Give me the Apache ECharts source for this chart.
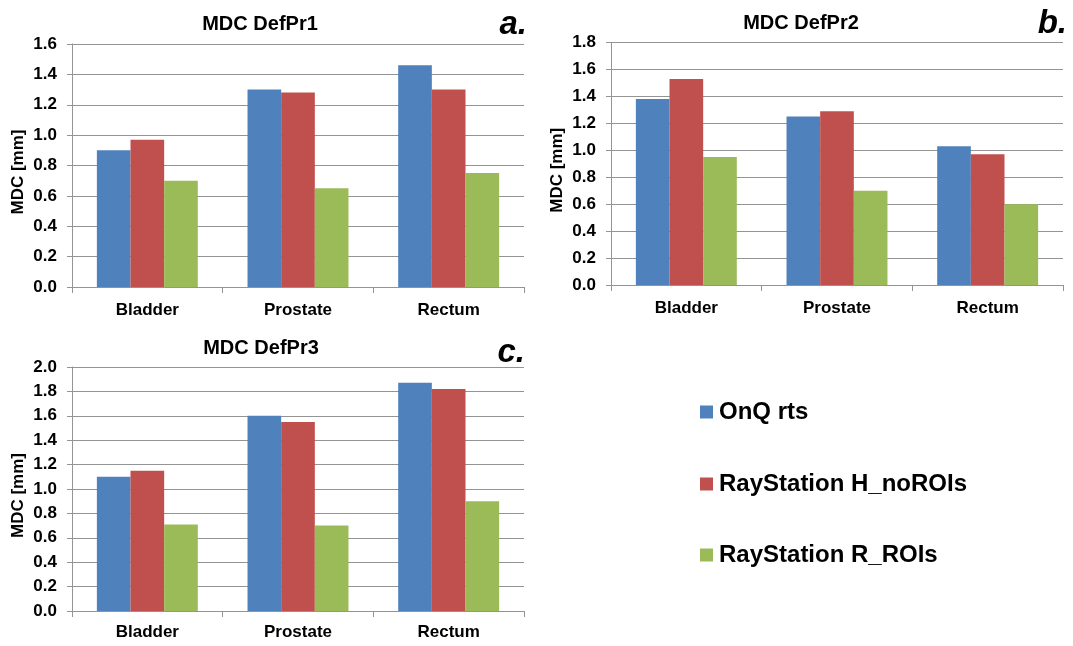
<!DOCTYPE html>
<html>
<head>
<meta charset="utf-8">
<style>
  html, body { margin: 0; padding: 0; background: #ffffff; }
  #chart { width: 1073px; height: 646px; }
</style>
<script src="https://cdn.jsdelivr.net/npm/echarts@6/dist/echarts.min.js"></script>
</head>
<body>
<div id="chart"></div>
<script>
// Organs on the category axis
const categories = ['Bladder', 'Prostate', 'Rectum'];
// Registration methods (series)
const seriesNames = ['OnQ rts', 'RayStation H_noROIs', 'RayStation R_ROIs'];
const seriesColors = ['#4F81BD', '#C0504D', '#9BBB59'];

// Panel titles and letters
const panelTitles = ['MDC DefPr1', 'MDC DefPr2', 'MDC DefPr3'];
const panelLetters = ['a.', 'b.', 'c.'];

// MDC [mm] per organ, DefPr1
const defPr1OnQ = [0.90, 1.30, 1.46];
const defPr1H   = [0.97, 1.28, 1.30];
const defPr1R   = [0.70, 0.65, 0.75];
// DefPr2
const defPr2OnQ = [1.38, 1.25, 1.03];
const defPr2H   = [1.53, 1.29, 0.97];
const defPr2R   = [0.95, 0.70, 0.60];
// DefPr3
const defPr3OnQ = [1.10, 1.60, 1.87];
const defPr3H   = [1.15, 1.55, 1.82];
const defPr3R   = [0.71, 0.70, 0.90];

// Value axis ranges per panel
const axisMax = [1.6, 1.8, 2.0];
const axisStep = 0.2;

const panelData = [
  [defPr1OnQ, defPr1H, defPr1R],
  [defPr2OnQ, defPr2H, defPr2R],
  [defPr3OnQ, defPr3H, defPr3R]
];

const FONT = '"Liberation Sans", Arial, Helvetica, sans-serif';
const GRID_COLOR = '#949494';

// Plot rectangles for the three panels
const grids = [
  { left: 72,  top: 44,  width: 452, height: 243 },
  { left: 611, top: 42.5, width: 452, height: 242.5 },
  { left: 72,  top: 367, width: 452, height: 244 }
];
const titlePos = [
  { x: 260, y: 14 },
  { x: 801, y: 13 },
  { x: 261, y: 338 }
];
const letterPos = [
  { x: 527, y: 25 },
  { x: 1067, y: 24 },
  { x: 525, y: 353 }
];

const chart = echarts.init(document.getElementById('chart'), null, { renderer: 'canvas' });

const xAxes = grids.map((g, i) => ({
  type: 'category',
  gridIndex: i,
  data: categories,
  axisLine: { lineStyle: { color: GRID_COLOR, width: 1 } },
  axisTick: { show: true, length: 6, lineStyle: { color: GRID_COLOR } },
  axisLabel: {
    color: '#000', fontFamily: FONT, fontWeight: 'bold', fontSize: 17, margin: i === 2 ? 13 : 15
  }
}));

const yAxes = grids.map((g, i) => ({
  type: 'value',
  gridIndex: i,
  min: 0,
  max: axisMax[i],
  interval: axisStep,
  name: 'MDC [mm]',
  nameLocation: 'middle',
  nameRotate: 90,
  nameGap: 45,
  nameTextStyle: {
    color: '#000', fontFamily: FONT, fontWeight: 'bold', fontSize: 17, padding: [0, 13, 0, 0]
  },
  axisLine: { show: true, lineStyle: { color: GRID_COLOR, width: 1 } },
  axisTick: { show: true, length: 5, lineStyle: { color: GRID_COLOR } },
  splitLine: { show: true, lineStyle: { color: GRID_COLOR, width: 1 } },
  axisLabel: {
    color: '#000', fontFamily: FONT, fontWeight: 'bold', fontSize: 17, margin: 15,
    formatter: v => v.toFixed(1)
  }
}));

const series = [];
panelData.forEach((sets, p) => {
  sets.forEach((vals, s) => {
    series.push({
      type: 'bar',
      name: seriesNames[s],
      xAxisIndex: p,
      yAxisIndex: p,
      data: vals,
      barGap: '0%',
      barCategoryGap: '33%',
      itemStyle: { color: seriesColors[s] },
      emphasis: { disabled: true }
    });
  });
});

const titles = panelTitles.map((t, i) => ({
  text: t,
  left: titlePos[i].x,
  top: titlePos[i].y,
  textAlign: 'center',
  padding: 0,
  textStyle: { color: '#000', fontFamily: FONT, fontWeight: 'bold', fontSize: 20 }
}));

// One legend per entry so each line sits at its own height
const legendTops = [400, 472, 543];
const legends = seriesNames.map((n, i) => ({
  data: [n],
  left: 700,
  top: legendTops[i],
  orient: 'vertical',
  itemWidth: 13,
  itemHeight: 13,
  itemGap: 0,
  padding: 0,
  icon: 'rect',
  selectedMode: false,
  textStyle: { color: '#000', fontFamily: FONT, fontWeight: 'bold', fontSize: 24, padding: [0, 0, 0, 1] }
}));

const letters = panelLetters.map((t, i) => ({
  type: 'text',
  x: letterPos[i].x,
  y: letterPos[i].y,
  style: {
    text: t,
    align: 'right',
    verticalAlign: 'middle',
    fill: '#000',
    font: 'italic bold 33px ' + FONT
  }
}));

chart.setOption({
  animation: false,
  backgroundColor: '#ffffff',
  title: titles,
  legend: legends,
  grid: grids,
  xAxis: xAxes,
  yAxis: yAxes,
  series: series,
  graphic: letters
});
</script>
</body>
</html>
